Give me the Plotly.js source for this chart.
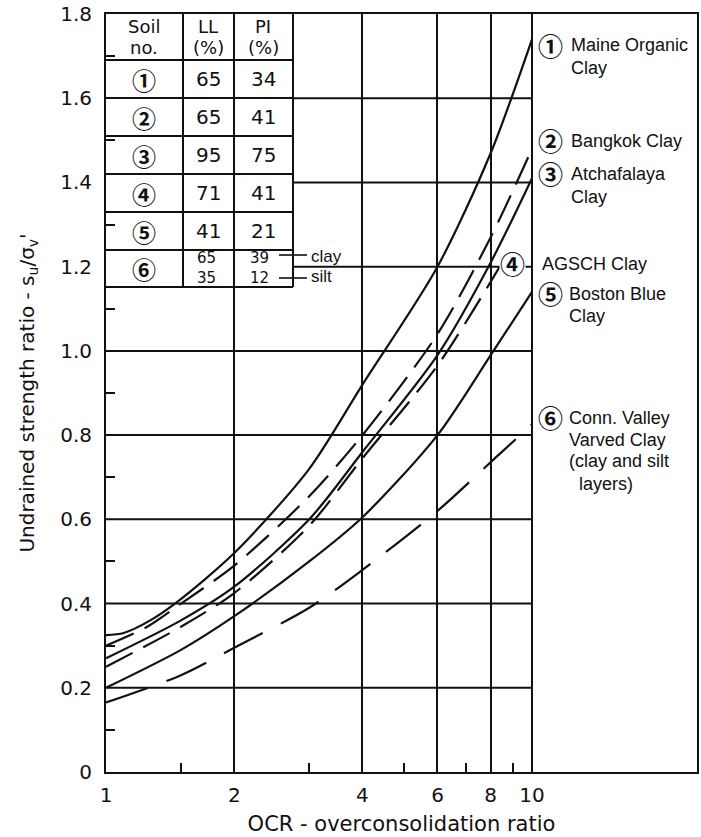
<!DOCTYPE html>
<html><head><meta charset="utf-8">
<script src="https://cdn.plot.ly/plotly-3.0.1.min.js"></script>
<style>html,body{margin:0;padding:0;background:#fff}#plot{width:701px;height:837px}</style>
</head><body><div id="plot"></div>
<script>
// ---- data ----
const ocrMaine   = [1, 1.1, 1.27, 1.47, 2, 3, 4, 6, 8, 10];
const suMaine    = [0.325, 0.33, 0.36, 0.404, 0.52, 0.72, 0.92, 1.2, 1.47, 1.74];
const ocrBangkok = [1, 1.25, 1.5, 2, 3, 4, 6, 8, 10];
const suBangkok  = [0.30, 0.345, 0.40, 0.49, 0.655, 0.80, 1.04, 1.27, 1.48];
const ocrAtch    = [1, 1.5, 2, 3, 4, 6, 8, 10];
const suAtch     = [0.27, 0.36, 0.44, 0.60, 0.76, 0.99, 1.21, 1.41];
const ocrAgsch   = [1, 1.5, 2, 3, 4, 6, 8.4];
const suAgsch    = [0.25, 0.345, 0.425, 0.585, 0.745, 0.965, 1.2];
const ocrBoston  = [1, 1.5, 2, 3, 4, 6, 8, 10];
const suBoston   = [0.20, 0.29, 0.37, 0.50, 0.605, 0.80, 0.99, 1.14];
const ocrConn    = [1, 1.5, 2, 3, 4, 6, 8.2, 10];
const suConn     = [0.165, 0.23, 0.295, 0.39, 0.48, 0.62, 0.746, 0.825];

const xTickVals  = [1, 2, 4, 6, 8, 10];
const xTickText  = ['1', '2', '4', '6', '8', '10'];
const xMinorVals = [1.5, 3, 5, 7, 9];
const yTickVals  = [0, 0.2, 0.4, 0.6, 0.8, 1.0, 1.2, 1.4, 1.6, 1.8];
const yTickText  = ['0', '0.2', '0.4', '0.6', '0.8', '1.0', '1.2', '1.4', '1.6', '1.8'];
const yMinorVals = [0.1, 0.3, 0.5, 0.7, 0.9, 1.1, 1.3, 1.5, 1.7];
const gridLow    = [0.2, 0.4, 0.6, 0.8, 1.0];
const gridHigh   = [1.2, 1.4, 1.6];

const tableHeader = [['Soil', 'no.'], ['LL', '(%)'], ['PI', '(%)']];
const soilNo = ['①', '②', '③', '④', '⑤', '⑥'];
const soilLL = ['65', '65', '95', '71', '41'];
const soilPI = ['34', '41', '75', '41', '21'];
const soil6LL = ['65', '35'];
const soil6PI = ['39', '12'];
const soil6Layer = ['clay', 'silt'];

// ---- layout helpers (pixel -> paper) ----
const L = 106, R = 697, T = 14, B = 772, W = R - L, H = B - T;
const px = X => (X - L) / W;
const py = Y => (B - Y) / H;
const xMaxLog = W / 426;
const INK = '#111';
const SANS = 'DejaVu Sans, sans-serif';
const ARIAL = 'Liberation Sans, Arial, sans-serif';
const CIRC = 'Noto Sans CJK JP, DejaVu Sans, sans-serif';

function curve(x, y, dash) {
  return {x: x, y: y, type: 'scatter', mode: 'lines', hoverinfo: 'skip', showlegend: false,
          line: {color: INK, width: 2.2, dash: dash, shape: 'spline', smoothing: 0.8}};
}
const traces = [
  curve(ocrMaine, suMaine, 'solid'),
  curve(ocrBangkok, suBangkok, '30px,12px'),
  curve(ocrAtch, suAtch, 'solid'),
  curve(ocrAgsch, suAgsch, '30px,12px'),
  curve(ocrBoston, suBoston, 'solid'),
  curve(ocrConn, suConn, '44px,20px'),
  // carrier for the minor-tick axes
  {x: [], y: [], type: 'scatter', mode: 'lines', xaxis: 'x2', yaxis: 'y2', showlegend: false, hoverinfo: 'skip'}
];

const shapes = [];
function hline(X0, X1, Y, w) {
  shapes.push({type: 'line', xref: 'paper', yref: 'paper', x0: px(X0), x1: px(X1), y0: py(Y), y1: py(Y),
               line: {color: INK, width: w || 2}});
}
function vline(X, Y0, Y1, w) {
  shapes.push({type: 'line', xref: 'paper', yref: 'paper', x0: px(X), x1: px(X), y0: py(Y0), y1: py(Y1),
               line: {color: INK, width: w || 2}});
}
gridLow.forEach(v => shapes.push({type: 'line', xref: 'paper', yref: 'y', x0: 0, x1: 1 / xMaxLog, y0: v, y1: v,
  layer: 'below', line: {color: INK, width: 2}}));
gridHigh.forEach(v => shapes.push({type: 'line', xref: 'paper', yref: 'y', x0: px(293), x1: 1 / xMaxLog, y0: v, y1: v,
  layer: 'below', line: {color: INK, width: 2}}));
const rowsY = [60, 98, 136, 174, 212, 250, 287];
rowsY.forEach(Y => hline(L, 293, Y, 2));
vline(183, T, 287, 2);
vline(293, T, 287, 2);
hline(279, 307, 255, 1.6);
hline(279, 307, 278, 1.6);

const ann = [];
function txt(t, X, Y, size, font, xanchor, extra, weight) {
  ann.push(Object.assign({text: t, xref: 'paper', yref: 'paper', x: px(X), y: py(Y), showarrow: false,
    xanchor: xanchor || 'center', yanchor: 'middle',
    font: {family: font || SANS, size: size, color: INK, weight: weight || 'normal'}}, extra || {}));
}
const colX = [144, 208, 263];
tableHeader.forEach((h, i) => { txt(h[0], colX[i], 26, 18); txt(h[1], colX[i], 47, 18); });
const rowMid = [79, 117, 155, 193, 231, 268];
soilNo.forEach((s, i) => txt(s, colX[0], rowMid[i], 24, CIRC, 'center', {height: 30}, 'bold'));
soilLL.forEach((s, i) => txt(s, colX[1], rowMid[i], 20));
soilPI.forEach((s, i) => txt(s, colX[2], rowMid[i], 20));
const sub6Y = [258, 278];
soil6LL.forEach((s, i) => txt(s, colX[1] - 2, sub6Y[i], 15, SANS, 'center', {height: 18}));
soil6PI.forEach((s, i) => txt(s, colX[2] - 4, sub6Y[i], 15, SANS, 'center', {height: 18}));
soil6Layer.forEach((s, i) => txt(s, 309, sub6Y[i] - 2, 17, ARIAL, 'left', {height: 20}));

const labelCircles = [[550, 45], [550, 140], [550, 173], [512, 263], [550, 293], [550, 417]];
labelCircles.forEach((c, i) => txt(soilNo[i], c[0], c[1], 25, CIRC, 'center',
  i === 3 ? {bgcolor: '#fff', borderpad: 0, height: 28} : {height: 28}, 'bold'));
const labelLines = [
  ['Maine Organic', 569, 45], ['Clay', 569, 67],
  ['Bangkok Clay', 569, 140],
  ['Atchafalaya', 569, 173], ['Clay', 569, 196],
  ['AGSCH Clay', 540, 263],
  ['Boston Blue', 567, 293], ['Clay', 567, 316],
  ['Conn. Valley', 567, 417], ['Varved Clay', 567, 439], ['(clay and silt', 567, 461], ['layers)', 577, 483]
];
labelLines.forEach(l => txt(l[0], l[1], l[2], 18, ARIAL, 'left', {height: 21}));

const minorTick = {ticks: 'inside', ticklen: 9, tickwidth: 2, tickcolor: INK, showticklabels: false,
  showgrid: false, showline: false, zeroline: false};
const layout = {
  width: 701, height: 837,
  margin: {l: L, r: 701 - R, t: T, b: 837 - B, pad: 0},
  paper_bgcolor: '#fff', plot_bgcolor: '#fff',
  showlegend: false,
  xaxis: {
    type: 'log', range: [0, xMaxLog], tickvals: xTickVals, ticktext: xTickText,
    showgrid: true, gridcolor: INK, gridwidth: 2, ticks: '', zeroline: false,
    showline: true, mirror: true, linecolor: INK, linewidth: 2,
    tickfont: {family: SANS, size: 20, color: INK}, ticklabelstandoff: 4,
    title: {text: 'OCR - overconsolidation ratio', font: {family: SANS, size: 21, color: INK}, standoff: 10}
  },
  yaxis: {
    range: [0, 1.8], tickvals: yTickVals, ticktext: yTickText,
    showgrid: false, ticks: '', zeroline: false,
    showline: true, mirror: true, linecolor: INK, linewidth: 2,
    tickfont: {family: SANS, size: 20, color: INK}, ticklabelstandoff: 8,
    title: {text: "Undrained strength ratio - s<sub>u</sub>/σ<sub>v</sub>'", font: {family: SANS, size: 20, color: INK}, standoff: 20}
  },
  xaxis2: Object.assign({type: 'log', range: [0, xMaxLog], overlaying: 'x', side: 'bottom', anchor: 'y2',
    tickmode: 'array', tickvals: xMinorVals}, minorTick),
  yaxis2: Object.assign({range: [0, 1.8], overlaying: 'y', side: 'left', anchor: 'x2',
    tickmode: 'array', tickvals: yMinorVals}, minorTick),
  shapes: shapes,
  annotations: ann
};
Plotly.newPlot('plot', traces, layout, {staticPlot: true, displayModeBar: false});
</script></body></html>
